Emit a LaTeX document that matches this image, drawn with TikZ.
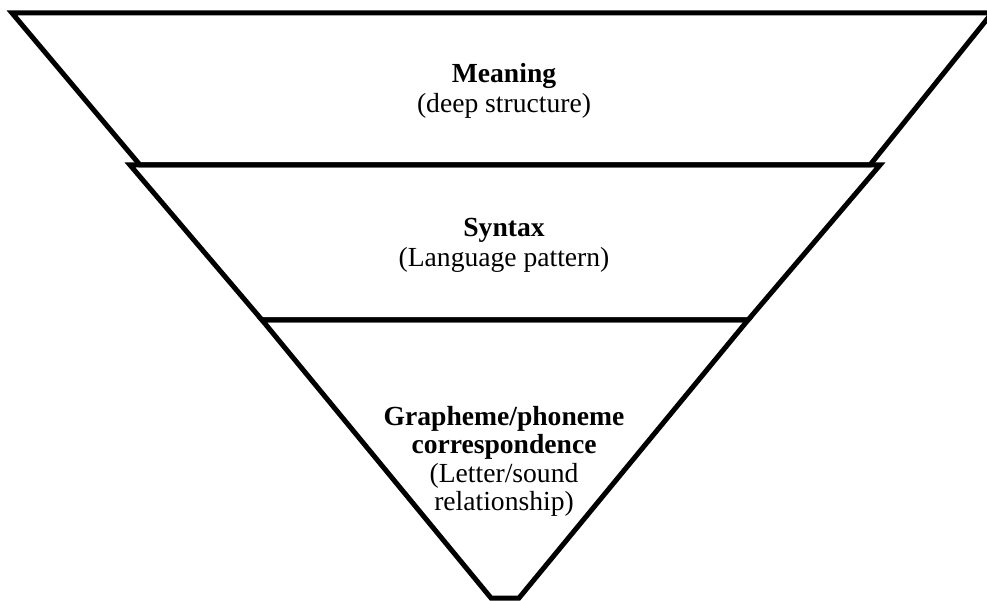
\documentclass[tikz,border=0pt]{standalone}
\usepackage{fontspec}
\setmainfont{Liberation Serif}
\begin{document}
\begin{tikzpicture}[x=1pt,y=-1pt,
  band/.style={draw=black,line width=5pt,line join=miter},
  lbl/.style={anchor=base,inner sep=0pt,font=\fontsize{27.6}{30}\selectfont},
  blbl/.style={lbl,font=\fontsize{27.6}{30}\selectfont\bfseries}]
\useasboundingbox (0,0) rectangle (987,601);
\clip (0,0) rectangle (987,601);
\draw[band] (12,13) -- (992,13) -- (870,165) -- (140,165) -- cycle;
\draw[band] (130,165) -- (880,165) -- (748,320) -- (262,320) -- cycle;
\draw[band] (262,320) -- (748,320) -- (519,598) -- (491,598) -- cycle;
\node[blbl] (m1) at (504,83) {Meaning};
\node[lbl] (m2) at (504,113) {(deep structure)};
\node[blbl] (s1) at (504,237) {Syntax};
\node[lbl] (s2) at (504,267) {(Language pattern)};
\node[blbl] (g1) at (504,425) {Grapheme/phoneme};
\node[blbl] (g2) at (504,453) {correspondence};
\node[lbl] (g3) at (504,482) {(Letter/sound};
\node[lbl] (g4) at (504,510) {relationship)};
\end{tikzpicture}
\end{document}
